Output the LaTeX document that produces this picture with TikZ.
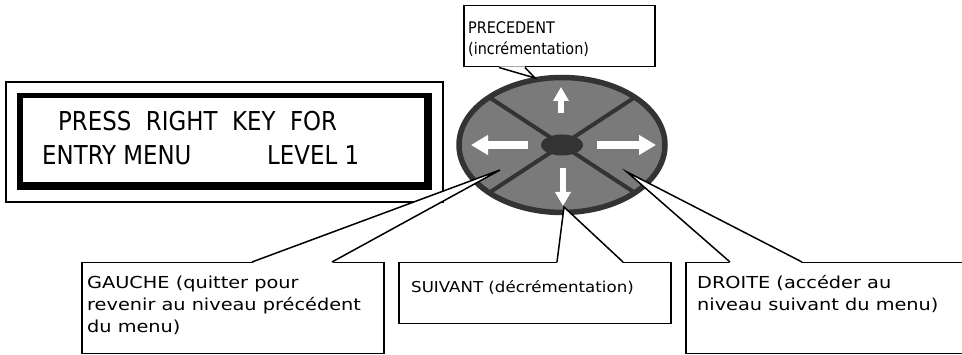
\documentclass[tikz,border=0pt]{standalone}
\usepackage{fontspec}
\usepackage{xcolor}
\usepackage{tikz}
\usetikzlibrary{arrows.meta}

\newfontfamily\lcdfont[FakeStretch=0.88]{DejaVu Sans}
\newfontfamily\notefont[FakeStretch=1.17]{DejaVu Sans}
\newfontfamily\smallnotefont[FakeStretch=1.11]{DejaVu Sans}
\newfontfamily\topnotefont[FakeStretch=0.9]{DejaVu Sans}
\definecolor{padgray}{HTML}{7A7A7A}
\definecolor{paddark}{HTML}{333333}

\begin{document}
\begin{tikzpicture}[x=1pt,y=-1pt,
  lcdtext/.style={font=\lcdfont\fontsize{26}{30}\selectfont,inner sep=0,anchor=base west},
  notebox/.style={draw,line width=1.5pt,fill=white,inner sep=0,anchor=north west},
  notetext/.style={font=\notefont\fontsize{16.5}{22}\selectfont,align=left,inner sep=0,anchor=north west},
  keyarrow/.style={white,line width=#1}]
\useasboundingbox (0,0) rectangle (962,355);

% LCD display
\draw[line width=1.2pt] (6,82) rectangle (443,202);
\fill (17,93) rectangle (432,190);
\fill[white] (23,98) rectangle (424,182);
\node[lcdtext] (row1) at (58,131) {PRESS~~RIGHT~~KEY~~FOR};
\node[lcdtext] (row2a) at (42,165) {ENTRY MENU};
\node[lcdtext] (row2b) at (267,165) {LEVEL 1};

% key pad
\filldraw[fill=padgray,draw=paddark,line width=5.5pt] (562,145) ellipse [x radius=103,y radius=67.5];
\foreach \a in {45,135,225,315}
  \draw[paddark,line width=4pt] (562,145) -- ++({103*cos(\a)},{67.5*sin(\a)});
\fill[paddark] (562,145) ellipse [x radius=21,y radius=10.5];
\draw[keyarrow=8pt,-{Triangle[width=19pt,length=17pt]}] (528,145) -- (471,145);
\draw[keyarrow=8pt,-{Triangle[width=19pt,length=17pt]}] (597,145) -- (656,145);
\draw[keyarrow=6pt,-{Triangle[width=15pt,length=14pt]}] (561,113) -- (561,87);
\draw[keyarrow=6pt,-{Triangle[width=15pt,length=14pt]}] (563,168) -- (563,206);

% callouts
\node[notebox,minimum width=191pt,minimum height=61pt] (prec) at (463,5) {};
\node[notetext,font=\topnotefont\fontsize{16}{21}\selectfont] (prectext) at (468,21.5) {PRECEDENT\\(incrémentation)};
\coordinate (prectip) at (535,78);
\fill[white] ([xshift=36pt,yshift=1pt]prec.south west) -- (prectip) -- ([xshift=62pt,yshift=1pt]prec.south west) -- cycle;
\draw[line width=1.5pt] ([xshift=36pt]prec.south west) -- (prectip) -- ([xshift=62pt]prec.south west);

\node[notebox,minimum width=302pt,minimum height=91pt] (gauche) at (81,262) {};
\node[notetext] (gauchetext) at (87,275.5) {GAUCHE (quitter pour\\revenir au niveau précédent\\du menu)};
\coordinate (gauchetip) at (500,170);
\fill[white] ([xshift=171pt,yshift=-1pt]gauche.north west) -- (gauchetip) -- ([xshift=251pt,yshift=-1pt]gauche.north west) -- cycle;
\draw[line width=1.5pt] ([xshift=171pt]gauche.north west) -- (gauchetip) -- ([xshift=251pt]gauche.north west);

\node[notebox,minimum width=272pt,minimum height=61pt] (suivant) at (398,262) {};
\node[notetext,font=\smallnotefont\fontsize{15}{22}\selectfont] (suivanttext) at (411,280.6) {SUIVANT (décrémentation)};
\coordinate (suivanttip) at (564,207);
\fill[white] ([xshift=159pt,yshift=-1pt]suivant.north west) -- (suivanttip) -- ([xshift=225pt,yshift=-1pt]suivant.north west) -- cycle;
\draw[line width=1.5pt] ([xshift=159pt]suivant.north west) -- (suivanttip) -- ([xshift=225pt]suivant.north west);

\node[notebox,minimum width=290pt,minimum height=91pt] (droite) at (685,262) {};
\node[notetext] (droitetext) at (697,275.5) {DROITE (accéder au\\niveau suivant du menu)};
\coordinate (droitetip) at (627,172);
\fill[white] ([xshift=45pt,yshift=-1pt]droite.north west) -- (droitetip) -- ([xshift=117pt,yshift=-1pt]droite.north west) -- cycle;
\draw[line width=1.5pt] ([xshift=45pt]droite.north west) -- (droitetip) -- ([xshift=117pt]droite.north west);
\end{tikzpicture}
\end{document}
